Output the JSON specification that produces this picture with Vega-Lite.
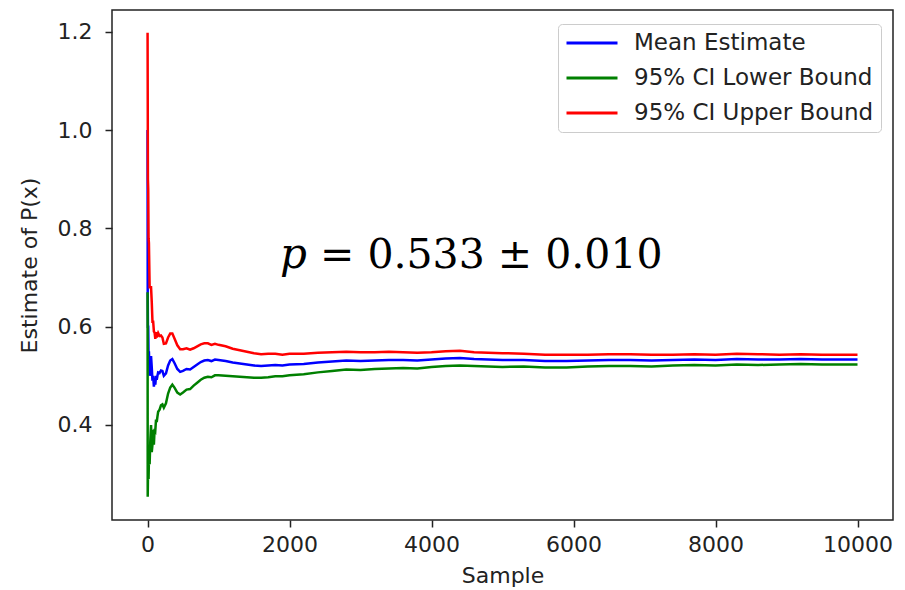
{
  "$schema": "https://vega.github.io/schema/vega-lite/v6.json",
  "width": 781,
  "height": 510,
  "autosize": "none",
  "padding": {"left": 112, "top": 10, "right": 12, "bottom": 70},
  "background": "white",
  "config": {
    "view": {"stroke": "#222222", "strokeWidth": 1.5},
    "font": "DejaVu Sans"
  },
  "data": {
    "values": [
      {"Sample": 1, "Mean Estimate": 1.000, "95% CI Lower Bound": 0.670, "95% CI Upper Bound": 1.198},
      {"Sample": 3, "Mean Estimate": 0.667, "95% CI Lower Bound": 0.254, "95% CI Upper Bound": 1.080},
      {"Sample": 6, "Mean Estimate": 0.600, "95% CI Lower Bound": 0.290, "95% CI Upper Bound": 0.900},
      {"Sample": 10, "Mean Estimate": 0.600, "95% CI Lower Bound": 0.300, "95% CI Upper Bound": 0.880},
      {"Sample": 15, "Mean Estimate": 0.533, "95% CI Lower Bound": 0.290, "95% CI Upper Bound": 0.780},
      {"Sample": 20, "Mean Estimate": 0.550, "95% CI Lower Bound": 0.330, "95% CI Upper Bound": 0.770},
      {"Sample": 30, "Mean Estimate": 0.500, "95% CI Lower Bound": 0.320, "95% CI Upper Bound": 0.680},
      {"Sample": 40, "Mean Estimate": 0.525, "95% CI Lower Bound": 0.370, "95% CI Upper Bound": 0.680},
      {"Sample": 50, "Mean Estimate": 0.540, "95% CI Lower Bound": 0.400, "95% CI Upper Bound": 0.680},
      {"Sample": 60, "Mean Estimate": 0.517, "95% CI Lower Bound": 0.345, "95% CI Upper Bound": 0.650},
      {"Sample": 70, "Mean Estimate": 0.490, "95% CI Lower Bound": 0.360, "95% CI Upper Bound": 0.610},
      {"Sample": 80, "Mean Estimate": 0.500, "95% CI Lower Bound": 0.390, "95% CI Upper Bound": 0.610},
      {"Sample": 90, "Mean Estimate": 0.478, "95% CI Lower Bound": 0.360, "95% CI Upper Bound": 0.590},
      {"Sample": 100, "Mean Estimate": 0.490, "95% CI Lower Bound": 0.392, "95% CI Upper Bound": 0.588},
      {"Sample": 110, "Mean Estimate": 0.482, "95% CI Lower Bound": 0.389, "95% CI Upper Bound": 0.575},
      {"Sample": 120, "Mean Estimate": 0.500, "95% CI Lower Bound": 0.411, "95% CI Upper Bound": 0.589},
      {"Sample": 130, "Mean Estimate": 0.492, "95% CI Lower Bound": 0.406, "95% CI Upper Bound": 0.578},
      {"Sample": 140, "Mean Estimate": 0.500, "95% CI Lower Bound": 0.417, "95% CI Upper Bound": 0.583},
      {"Sample": 150, "Mean Estimate": 0.507, "95% CI Lower Bound": 0.427, "95% CI Upper Bound": 0.587},
      {"Sample": 170, "Mean Estimate": 0.506, "95% CI Lower Bound": 0.431, "95% CI Upper Bound": 0.581},
      {"Sample": 190, "Mean Estimate": 0.511, "95% CI Lower Bound": 0.440, "95% CI Upper Bound": 0.582},
      {"Sample": 210, "Mean Estimate": 0.510, "95% CI Lower Bound": 0.442, "95% CI Upper Bound": 0.578},
      {"Sample": 230, "Mean Estimate": 0.500, "95% CI Lower Bound": 0.435, "95% CI Upper Bound": 0.565},
      {"Sample": 260, "Mean Estimate": 0.505, "95% CI Lower Bound": 0.444, "95% CI Upper Bound": 0.566},
      {"Sample": 290, "Mean Estimate": 0.521, "95% CI Lower Bound": 0.464, "95% CI Upper Bound": 0.578},
      {"Sample": 320, "Mean Estimate": 0.531, "95% CI Lower Bound": 0.476, "95% CI Upper Bound": 0.586},
      {"Sample": 350, "Mean Estimate": 0.534, "95% CI Lower Bound": 0.482, "95% CI Upper Bound": 0.586},
      {"Sample": 380, "Mean Estimate": 0.526, "95% CI Lower Bound": 0.476, "95% CI Upper Bound": 0.576},
      {"Sample": 420, "Mean Estimate": 0.514, "95% CI Lower Bound": 0.466, "95% CI Upper Bound": 0.562},
      {"Sample": 460, "Mean Estimate": 0.508, "95% CI Lower Bound": 0.462, "95% CI Upper Bound": 0.554},
      {"Sample": 500, "Mean Estimate": 0.510, "95% CI Lower Bound": 0.466, "95% CI Upper Bound": 0.554},
      {"Sample": 550, "Mean Estimate": 0.514, "95% CI Lower Bound": 0.472, "95% CI Upper Bound": 0.556},
      {"Sample": 600, "Mean Estimate": 0.513, "95% CI Lower Bound": 0.473, "95% CI Upper Bound": 0.553},
      {"Sample": 650, "Mean Estimate": 0.518, "95% CI Lower Bound": 0.480, "95% CI Upper Bound": 0.556},
      {"Sample": 700, "Mean Estimate": 0.523, "95% CI Lower Bound": 0.486, "95% CI Upper Bound": 0.560},
      {"Sample": 750, "Mean Estimate": 0.528, "95% CI Lower Bound": 0.492, "95% CI Upper Bound": 0.564},
      {"Sample": 800, "Mean Estimate": 0.531, "95% CI Lower Bound": 0.496, "95% CI Upper Bound": 0.566},
      {"Sample": 850, "Mean Estimate": 0.532, "95% CI Lower Bound": 0.498, "95% CI Upper Bound": 0.566},
      {"Sample": 900, "Mean Estimate": 0.530, "95% CI Lower Bound": 0.497, "95% CI Upper Bound": 0.563},
      {"Sample": 950, "Mean Estimate": 0.533, "95% CI Lower Bound": 0.501, "95% CI Upper Bound": 0.565},
      {"Sample": 1000, "Mean Estimate": 0.532, "95% CI Lower Bound": 0.501, "95% CI Upper Bound": 0.563},
      {"Sample": 1100, "Mean Estimate": 0.530, "95% CI Lower Bound": 0.500, "95% CI Upper Bound": 0.560},
      {"Sample": 1200, "Mean Estimate": 0.527, "95% CI Lower Bound": 0.499, "95% CI Upper Bound": 0.555},
      {"Sample": 1300, "Mean Estimate": 0.525, "95% CI Lower Bound": 0.498, "95% CI Upper Bound": 0.552},
      {"Sample": 1400, "Mean Estimate": 0.523, "95% CI Lower Bound": 0.497, "95% CI Upper Bound": 0.549},
      {"Sample": 1500, "Mean Estimate": 0.521, "95% CI Lower Bound": 0.496, "95% CI Upper Bound": 0.546},
      {"Sample": 1600, "Mean Estimate": 0.520, "95% CI Lower Bound": 0.496, "95% CI Upper Bound": 0.544},
      {"Sample": 1700, "Mean Estimate": 0.521, "95% CI Lower Bound": 0.497, "95% CI Upper Bound": 0.545},
      {"Sample": 1800, "Mean Estimate": 0.522, "95% CI Lower Bound": 0.499, "95% CI Upper Bound": 0.545},
      {"Sample": 1900, "Mean Estimate": 0.521, "95% CI Lower Bound": 0.499, "95% CI Upper Bound": 0.543},
      {"Sample": 2000, "Mean Estimate": 0.523, "95% CI Lower Bound": 0.501, "95% CI Upper Bound": 0.545},
      {"Sample": 2200, "Mean Estimate": 0.524, "95% CI Lower Bound": 0.503, "95% CI Upper Bound": 0.545},
      {"Sample": 2400, "Mean Estimate": 0.527, "95% CI Lower Bound": 0.507, "95% CI Upper Bound": 0.547},
      {"Sample": 2600, "Mean Estimate": 0.529, "95% CI Lower Bound": 0.510, "95% CI Upper Bound": 0.548},
      {"Sample": 2800, "Mean Estimate": 0.531, "95% CI Lower Bound": 0.513, "95% CI Upper Bound": 0.549},
      {"Sample": 3000, "Mean Estimate": 0.530, "95% CI Lower Bound": 0.512, "95% CI Upper Bound": 0.548},
      {"Sample": 3200, "Mean Estimate": 0.531, "95% CI Lower Bound": 0.514, "95% CI Upper Bound": 0.548},
      {"Sample": 3400, "Mean Estimate": 0.532, "95% CI Lower Bound": 0.515, "95% CI Upper Bound": 0.549},
      {"Sample": 3600, "Mean Estimate": 0.532, "95% CI Lower Bound": 0.516, "95% CI Upper Bound": 0.548},
      {"Sample": 3800, "Mean Estimate": 0.531, "95% CI Lower Bound": 0.515, "95% CI Upper Bound": 0.547},
      {"Sample": 4000, "Mean Estimate": 0.533, "95% CI Lower Bound": 0.518, "95% CI Upper Bound": 0.548},
      {"Sample": 4200, "Mean Estimate": 0.535, "95% CI Lower Bound": 0.520, "95% CI Upper Bound": 0.550},
      {"Sample": 4400, "Mean Estimate": 0.536, "95% CI Lower Bound": 0.521, "95% CI Upper Bound": 0.551},
      {"Sample": 4600, "Mean Estimate": 0.534, "95% CI Lower Bound": 0.520, "95% CI Upper Bound": 0.548},
      {"Sample": 4800, "Mean Estimate": 0.533, "95% CI Lower Bound": 0.519, "95% CI Upper Bound": 0.547},
      {"Sample": 5000, "Mean Estimate": 0.532, "95% CI Lower Bound": 0.518, "95% CI Upper Bound": 0.546},
      {"Sample": 5300, "Mean Estimate": 0.532, "95% CI Lower Bound": 0.519, "95% CI Upper Bound": 0.545},
      {"Sample": 5600, "Mean Estimate": 0.530, "95% CI Lower Bound": 0.517, "95% CI Upper Bound": 0.543},
      {"Sample": 5900, "Mean Estimate": 0.530, "95% CI Lower Bound": 0.517, "95% CI Upper Bound": 0.543},
      {"Sample": 6200, "Mean Estimate": 0.531, "95% CI Lower Bound": 0.519, "95% CI Upper Bound": 0.543},
      {"Sample": 6500, "Mean Estimate": 0.532, "95% CI Lower Bound": 0.520, "95% CI Upper Bound": 0.544},
      {"Sample": 6800, "Mean Estimate": 0.532, "95% CI Lower Bound": 0.520, "95% CI Upper Bound": 0.544},
      {"Sample": 7100, "Mean Estimate": 0.531, "95% CI Lower Bound": 0.519, "95% CI Upper Bound": 0.543},
      {"Sample": 7400, "Mean Estimate": 0.532, "95% CI Lower Bound": 0.521, "95% CI Upper Bound": 0.543},
      {"Sample": 7700, "Mean Estimate": 0.533, "95% CI Lower Bound": 0.522, "95% CI Upper Bound": 0.544},
      {"Sample": 8000, "Mean Estimate": 0.532, "95% CI Lower Bound": 0.521, "95% CI Upper Bound": 0.543},
      {"Sample": 8300, "Mean Estimate": 0.534, "95% CI Lower Bound": 0.523, "95% CI Upper Bound": 0.545},
      {"Sample": 8600, "Mean Estimate": 0.533, "95% CI Lower Bound": 0.522, "95% CI Upper Bound": 0.544},
      {"Sample": 8900, "Mean Estimate": 0.533, "95% CI Lower Bound": 0.523, "95% CI Upper Bound": 0.543},
      {"Sample": 9200, "Mean Estimate": 0.534, "95% CI Lower Bound": 0.524, "95% CI Upper Bound": 0.544},
      {"Sample": 9500, "Mean Estimate": 0.533, "95% CI Lower Bound": 0.523, "95% CI Upper Bound": 0.543},
      {"Sample": 9800, "Mean Estimate": 0.533, "95% CI Lower Bound": 0.523, "95% CI Upper Bound": 0.543},
      {"Sample": 10000, "Mean Estimate": 0.533, "95% CI Lower Bound": 0.523, "95% CI Upper Bound": 0.543}
    ]
  },
  "layer": [
    {
      "transform": [
        {"fold": ["Mean Estimate", "95% CI Lower Bound", "95% CI Upper Bound"], "as": ["series", "value"]}
      ],
      "mark": {"type": "line", "strokeWidth": 2.5},
      "encoding": {
        "x": {
          "field": "Sample",
          "type": "quantitative",
          "scale": {"domain": [-500, 10500], "nice": false, "zero": false},
          "axis": {
            "title": "Sample",
            "values": [0, 2000, 4000, 6000, 8000, 10000],
            "format": "d",
            "labelFont": "DejaVu Sans",
            "labelFontSize": 22,
            "labelColor": "#222222",
            "labelFlush": false,
            "labelPadding": 7,
            "tickColor": "#222222",
            "tickSize": 7,
            "tickWidth": 1.5,
            "domain": false,
            "grid": false,
            "titleFont": "DejaVu Sans",
            "titleFontSize": 22,
            "titleFontWeight": "normal",
            "titleColor": "#222222",
            "titlePadding": 10
          }
        },
        "y": {
          "field": "value",
          "type": "quantitative",
          "scale": {"domain": [0.2067, 1.2441], "nice": false, "zero": false},
          "axis": {
            "title": "Estimate of P(x)",
            "values": [0.4, 0.6, 0.8, 1.0, 1.2],
            "format": ".1f",
            "labelFont": "DejaVu Sans",
            "labelFontSize": 22,
            "labelColor": "#222222",
            "labelPadding": 13,
            "tickColor": "#222222",
            "tickSize": 7,
            "tickWidth": 1.5,
            "domain": false,
            "grid": false,
            "titleFont": "DejaVu Sans",
            "titleFontSize": 22,
            "titleFontWeight": "normal",
            "titleColor": "#222222",
            "titlePadding": 16
          }
        },
        "color": {
          "field": "series",
          "type": "nominal",
          "scale": {
            "domain": ["Mean Estimate", "95% CI Lower Bound", "95% CI Upper Bound"],
            "range": ["#0000ff", "#008000", "#ff0000"]
          },
          "legend": {
            "title": null,
            "orient": "none",
            "legendX": 446,
            "legendY": 14,
            "padding": 7,
            "strokeColor": "#cccccc",
            "cornerRadius": 4,
            "fillColor": "rgba(255,255,255,0.8)",
            "symbolType": "stroke",
            "symbolSize": 2601,
            "symbolStrokeWidth": 3,
            "clipHeight": 24,
            "rowPadding": 11,
            "labelOffset": 15,
            "labelFont": "DejaVu Sans",
            "labelFontSize": 23,
            "labelColor": "#222222",
            "labelLimit": 400
          }
        }
      }
    },
    {
      "data": {"values": [{"Sample": 1866, "value": 0.7193, "label": "p"}]},
      "mark": {"type": "text", "font": "DejaVu Serif", "fontStyle": "italic", "fontSize": 42, "align": "left", "baseline": "alphabetic", "color": "#000000"},
      "encoding": {
        "x": {"field": "Sample", "type": "quantitative"},
        "y": {"field": "value", "type": "quantitative"},
        "text": {"field": "label"}
      }
    },
    {
      "data": {"values": [{"Sample": 2430, "value": 0.7193, "label": "= 0.533 ± 0.010"}]},
      "mark": {"type": "text", "font": "DejaVu Serif", "fontSize": 41, "align": "left", "baseline": "alphabetic", "color": "#000000"},
      "encoding": {
        "x": {"field": "Sample", "type": "quantitative"},
        "y": {"field": "value", "type": "quantitative"},
        "text": {"field": "label"}
      }
    }
  ]
}
